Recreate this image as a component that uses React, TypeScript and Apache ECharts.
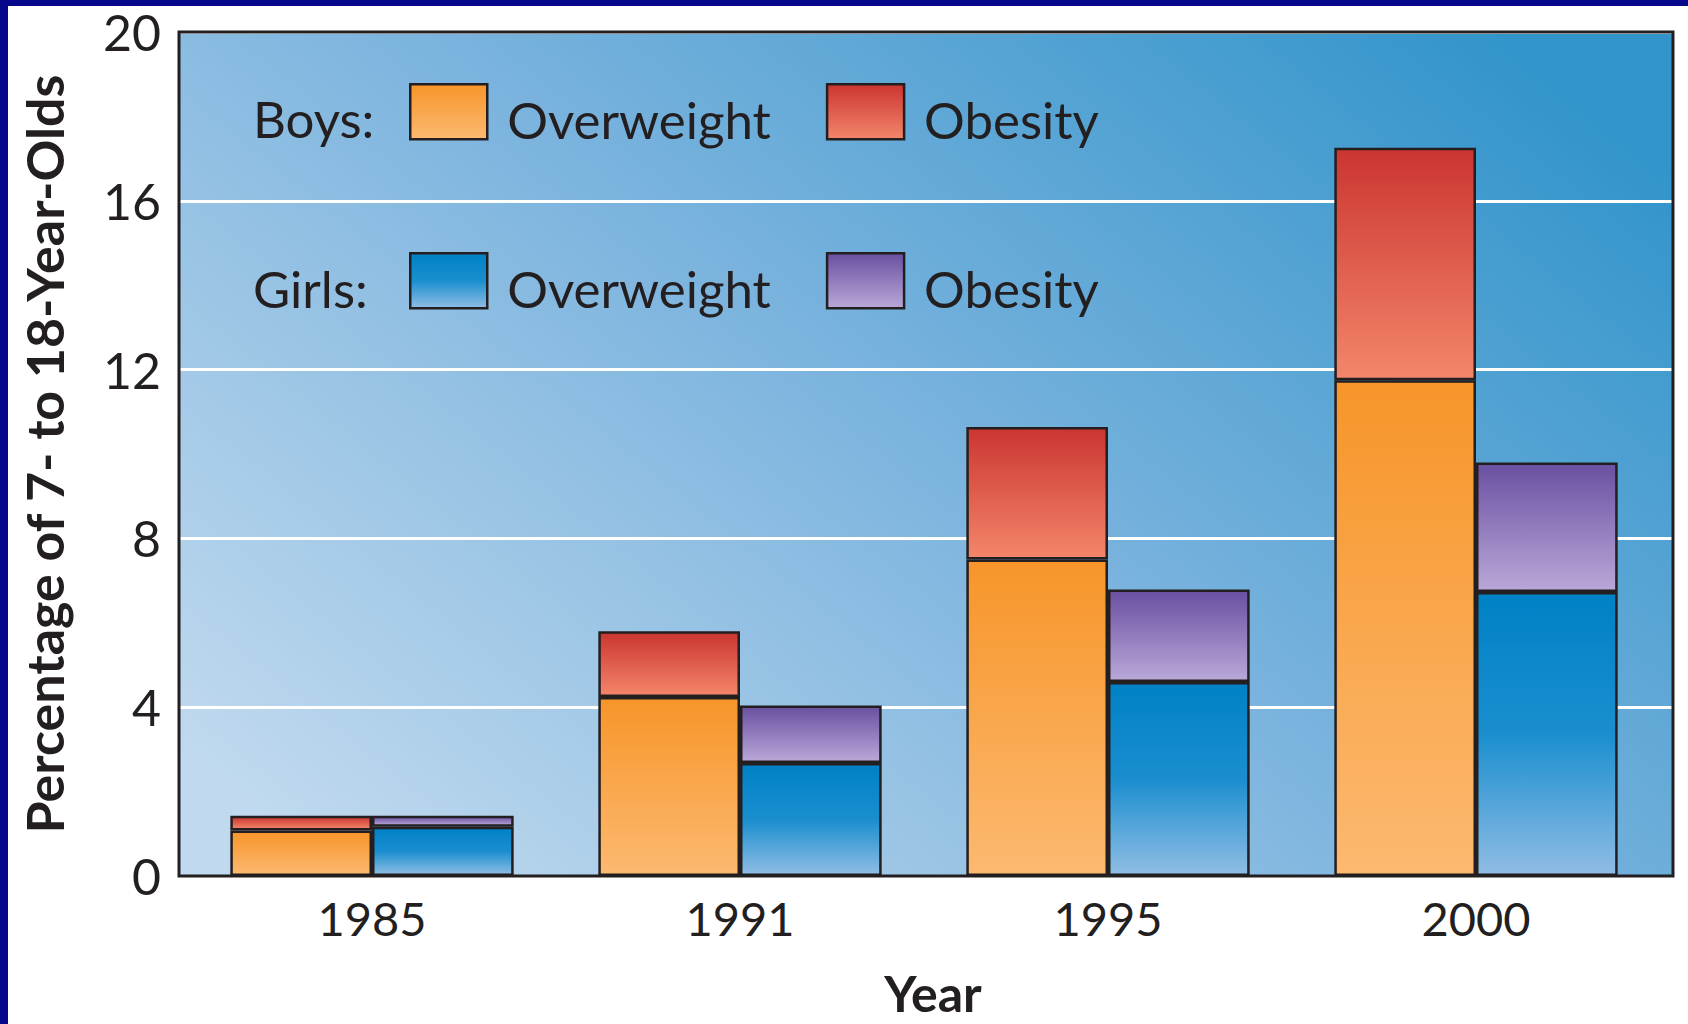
import React, { useEffect, useRef } from "react";
import * as echarts from "echarts";

const years = ["1985", "1991", "1995", "2000"];
const boysOverweight = [1.08, 4.24, 7.5, 11.75];
const boysObesity = [0.35, 1.56, 3.14, 5.51];
const girlsOverweight = [1.17, 2.68, 4.6, 6.73];
const girlsObesity = [0.26, 1.36, 2.19, 3.07];
const yMin = 0;
const yMax = 20;
const yStep = 4;

const INK = "#231f20";
const FONT = "Lato";

const grad = (stops: [number, string][]) =>
  new echarts.graphic.LinearGradient(
    0,
    0,
    0,
    1,
    stops.map(([offset, color]) => ({ offset, color }))
  );

export default function App() {
  const ref = useRef<HTMLDivElement>(null);

  useEffect(() => {
    if (!ref.current) return;
    const chart = echarts.init(ref.current, undefined, { renderer: "svg" });

    const barBase = {
      type: "bar" as const,
      xAxisIndex: 1,
      yAxisIndex: 1,
      barGap: "0%",
      barCategoryGap: "23%",
    };
    const border = { borderColor: INK, borderWidth: 2.5 };

    const legendCommon = {
      orient: "horizontal" as const,
      left: 409,
      itemWidth: 77,
      itemHeight: 55,
      itemGap: 55,
      padding: 0,
      icon: "rect",
      selectedMode: false,
      formatter: (n: string) => "{t|" + n.replace(/^(Boys|Girls) /, "") + "}",
      itemStyle: { borderColor: INK, borderWidth: 2.5 },
      textStyle: {
        fontFamily: FONT,
        fontSize: 51,
        color: INK,
        rich: {
          t: {
            fontFamily: FONT,
            fontSize: 51,
            color: INK,
            padding: [16, 0, 0, 15],
          },
        },
      },
    };

    chart.setOption({
      animation: false,
      backgroundColor: "#ffffff",
      grid: [
        {
          left: 179,
          top: 32,
          width: 1494,
          height: 844,
          show: true,
          borderWidth: 0,
          backgroundColor: new echarts.graphic.LinearGradient(0, 0.85, 1, 0.15, [
            { offset: 0, color: "#c0d9ee" },
            { offset: 0.5, color: "#7cb4de" },
            { offset: 1, color: "#3194ca" },
          ]),
        },
        { left: 188, top: 32, width: 1472, height: 844 },
      ],
      xAxis: [
        {
          gridIndex: 0,
          type: "category",
          data: years,
          show: false,
        },
        {
          gridIndex: 1,
          type: "category",
          data: years,
          axisLine: { show: false },
          axisTick: { show: false },
          axisLabel: {
            fontFamily: FONT,
            fontSize: 47,
            color: INK,
            margin: 18,
          },
          name: "Year",
          nameLocation: "middle",
          nameGap: 92,
          nameTextStyle: {
            fontFamily: FONT,
            fontSize: 50,
            fontWeight: "bold",
            color: INK,
            padding: [0, 0, 0, 18],
          },
        },
      ],
      yAxis: [
        {
          gridIndex: 0,
          type: "value",
          min: yMin,
          max: yMax,
          interval: yStep,
          axisLine: { show: false },
          axisTick: { show: false },
          axisLabel: {
            fontFamily: FONT,
            fontSize: 50,
            color: INK,
            margin: 18,
            padding: [11, 0, 0, 0],
          },
          splitLine: { lineStyle: { color: "#ffffff", width: 3 } },
          name: "Percentage of 7- to 18-Year-Olds",
          nameLocation: "middle",
          nameGap: 109,
          nameTextStyle: {
            fontFamily: FONT,
            fontSize: 52,
            fontWeight: "bold",
            color: INK,
          },
        },
        {
          gridIndex: 1,
          type: "value",
          min: yMin,
          max: yMax,
          interval: yStep,
          show: false,
          splitLine: { show: false },
        },
      ],
      legend: [
        { ...legendCommon, top: 83, data: ["Boys Overweight", "Boys Obesity"] },
        { ...legendCommon, top: 252, data: ["Girls Overweight", "Girls Obesity"] },
      ],
      series: [
        {
          ...barBase,
          name: "Boys Overweight",
          stack: "boys",
          data: boysOverweight,
          itemStyle: {
            ...border,
            color: grad([
              [0, "#f7952a"],
              [1, "#fcb970"],
            ]),
          },
        },
        {
          ...barBase,
          name: "Boys Obesity",
          stack: "boys",
          data: boysObesity,
          itemStyle: {
            ...border,
            color: grad([
              [0, "#cb3530"],
              [1, "#f3866b"],
            ]),
          },
        },
        {
          ...barBase,
          name: "Girls Overweight",
          stack: "girls",
          data: girlsOverweight,
          itemStyle: {
            ...border,
            color: grad([
              [0, "#0081c6"],
              [0.5, "#1a8ecf"],
              [1, "#90bde4"],
            ]),
          },
        },
        {
          ...barBase,
          name: "Girls Obesity",
          stack: "girls",
          data: girlsObesity,
          itemStyle: {
            ...border,
            color: grad([
              [0, "#6950a1"],
              [1, "#baa8d8"],
            ]),
          },
        },
      ],
      graphic: [
        {
          type: "rect",
          shape: { x: 0, y: 0, width: 8, height: 1024 },
          style: { fill: "#07078c" },
          z: 100,
        },
        {
          type: "rect",
          shape: { x: 0, y: 0, width: 1688, height: 6 },
          style: { fill: "#07078c" },
          z: 100,
        },
        {
          type: "rect",
          shape: { x: 179, y: 32, width: 1494, height: 844 },
          style: { fill: "none", stroke: INK, lineWidth: 3 },
          z: 100,
        },
        {
          type: "text",
          x: 253,
          y: 118,
          style: {
            text: "Boys:",
            fontFamily: FONT,
            fontSize: 51,
            fill: INK,
            verticalAlign: "middle",
          },
          z: 100,
        },
        {
          type: "text",
          x: 253,
          y: 288,
          style: {
            text: "Girls:",
            fontFamily: FONT,
            fontSize: 51,
            fill: INK,
            verticalAlign: "middle",
          },
          z: 100,
        },
      ],
    });

    return () => chart.dispose();
  }, []);

  return (
    <div
      ref={ref}
      style={{ position: "fixed", left: 0, top: 0, width: 1688, height: 1024 }}
    />
  );
}
